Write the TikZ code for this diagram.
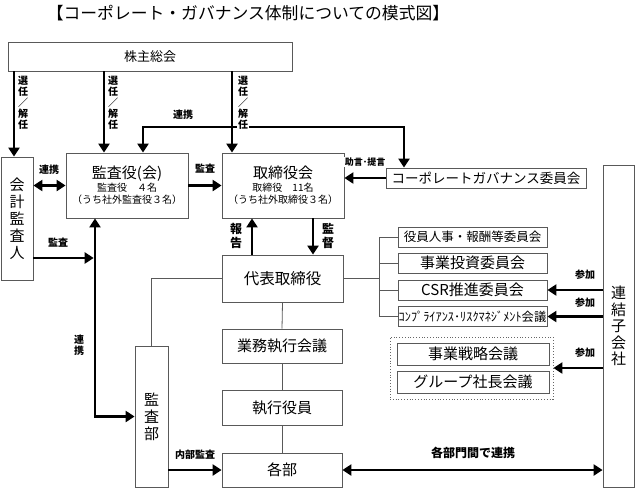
\documentclass[tikz,border=0pt]{standalone}
\usepackage{fontspec}
\setmainfont{Noto Sans CJK JP}
\usetikzlibrary{calc,positioning,arrows,arrows.meta}

\begin{document}
\begin{tikzpicture}[x=1pt,y=-1pt]
\tikzstyle{box}=[draw=black!65, line width=0.8pt, fill=white, inner sep=0pt,
                 align=center, font=\fontsize{15}{17}\selectfont]
\tikzstyle{arr}=[line width=2.6pt, -{Triangle[length=9pt,width=11pt]}]
\tikzstyle{darr}=[line width=2.6pt,
                  {Triangle[length=9pt,width=11pt]}-{Triangle[length=9pt,width=11pt]}]
\tikzstyle{thin}=[draw=black!65, line width=0.8pt]
\tikzstyle{lbl}=[font=\bfseries\fontsize{10}{11}\selectfont, inner sep=1pt,
                 align=center, fill=white]
\useasboundingbox (0,0) rectangle (636,488);

\node (title) at (248,13) {\fontsize{16.8}{18}\selectfont 【コーポレート・ガバナンス体制についての模式図】};

% boxes
\node[box, minimum width=284pt, minimum height=29pt, font=\fontsize{13}{15}\selectfont] (kabunushi) at (150,56.5) {株主総会};
\node[box, minimum width=32pt, minimum height=123pt] (kaikei) at (17,218.5) {会\\計\\監\\査\\人};
\node[box, minimum width=122pt, minimum height=65pt, font=\fontsize{10}{12.5}\selectfont] (kansayaku) at (127,185.5)
  {{\fontsize{15}{18}\selectfont 監査役(会)}\\監査役　４名\\（うち社外監査役３名）};
\node[box, minimum width=122pt, minimum height=65pt, font=\fontsize{10}{12.5}\selectfont] (torishimari) at (283,185.5)
  {{\fontsize{15}{18}\selectfont 取締役会}\\取締役　11名\\（うち社外取締役３名）};
\node[box, minimum width=200pt, minimum height=20pt, font=\fontsize{13.5}{15}\selectfont] (cg) at (486,178) {コーポレートガバナンス委員会};
\node[box, minimum width=121pt, minimum height=47pt, font=\fontsize{15.5}{17}\selectfont] (daihyo) at (282.5,278.5) {代表取締役};
\node[box, minimum width=120pt, minimum height=34pt] (gyomu) at (282,346) {業務執行会議};
\node[box, minimum width=120pt, minimum height=35pt] (shikko) at (282,407.5) {執行役員};
\node[box, minimum width=120pt, minimum height=34pt] (kakubu) at (282,470) {各部};
\node[box, minimum width=33pt, minimum height=141pt] (kansabu) at (151.5,416.5) {監\\査\\部};
\node[box, minimum width=31pt, minimum height=322pt, font=\fontsize{15}{16.5}\selectfont] (renketsu) at (618.5,326) {連\\結\\子\\会\\社};

\node[box, minimum width=149pt, minimum height=20pt, font=\fontsize{12.5}{14}\selectfont] (iin1) at (472.5,237) {役員人事・報酬等委員会};
\node[box, minimum width=149pt, minimum height=20pt] (iin2) at (472.5,263) {事業投資委員会};
\node[box, minimum width=149pt, minimum height=20pt] (csr) at (472.5,290) {CSR推進委員会};
\node[box, minimum width=149pt, minimum height=20pt, font=\fontsize{12.3}{14}\selectfont] (comp) at (472.5,316.5) {ｺﾝﾌﾟﾗｲｱﾝｽ･ﾘｽｸﾏﾈｼﾞﾒﾝﾄ会議};

\node[draw=black!60, dotted, line width=0.8pt, minimum width=163pt, minimum height=62pt] (dotbox) at (471.5,368) {};
\node[box, minimum width=152pt, minimum height=22pt] (senryaku) at (473,354) {事業戦略会議};
\node[box, minimum width=152pt, minimum height=22pt] (shacho) at (473,382) {グループ社長会議};

% thin lines
\draw[thin] (daihyo.west) -| (kansabu.north);
\foreach \a/\b in {daihyo/gyomu,gyomu/shikko,shikko/kakubu}{\draw[thin] (\a.south) -- (\b.north);}
\coordinate (brk) at (379,0);
\draw[thin] (daihyo.east) -- (daihyo.east -| brk);
\draw[thin] (iin1.west -| brk) -- (comp.west -| brk);
\foreach \c in {iin1,iin2,csr,comp}{\draw[thin] (\c.west -| brk) -- (\c.west);}

% thick arrows
\coordinate (s1) at ([xshift=-3pt]kaikei.north);
\coordinate (s2) at ([xshift=-23pt]kansayaku.north);
\coordinate (s3) at ([xshift=-51pt]torishimari.north);
\foreach \s in {s1,s2,s3}{\draw[arr] (kabunushi.south -| \s) -- (\s);}
\coordinate (r1) at ([xshift=16pt]kansayaku.north);
\coordinate (r2) at ([xshift=-82pt]cg.north);
\coordinate (rtop) at (0,127);
\draw[darr] (r1) -- (r1 |- rtop) -- (r2 |- rtop) -- (r2);
\draw[darr] (kansayaku.west -| kaikei.east) -- (kansayaku.west);
\draw[arr] (kansayaku.east) -- (torishimari.west);
\draw[arr] (cg.west) -- (cg.west -| torishimari.east);
\coordinate (k1) at ([xshift=-32pt]kansayaku.south);
\draw[darr] (k1) |- (kansabu.west);
\coordinate (k2) at (k1 |- 0,258);
\draw[arr, shorten >=1.3pt] (kaikei.east |- k2) -- (k2);
\coordinate (h1) at ([xshift=-30.5pt]daihyo.north);
\coordinate (h2) at ([xshift=30.5pt]daihyo.north);
\draw[arr] (h1) -- (h1 |- torishimari.south);
\draw[arr] (h2 |- torishimari.south) -- (h2);
\foreach \c in {csr,comp,dotbox}{\draw[arr] (\c.east -| renketsu.west) -- (\c.east);}
\draw[arr] (kakubu.west -| kansabu.east) -- (kakubu.west);
\draw[darr] (kakubu.east) -- (kakubu.east -| renketsu.west);

% labels
\node[lbl] (sn1) at (23,103) {選\\任\\／\\解\\任};
\node[lbl] (sn2) at (113,103) {選\\任\\／\\解\\任};
\node[lbl] (sn3) at (243,103) {選\\任\\／\\解\\任};
\node[lbl] (rk1) at (183,115) {連携};
\node[lbl] (rk2) at (49,170) {連携};
\node[lbl] (ks1) at (205,169) {監査};
\node[lbl] (ks2) at (58,243) {監査};
\node[lbl] (rk3) at (79,345) {連\\携};
\node[lbl, font=\bfseries\fontsize{12}{14}\selectfont] (hk) at (236,236) {報\\告};
\node[lbl, font=\bfseries\fontsize{12}{14}\selectfont] (kt) at (328,236) {監\\督};
\node[lbl, font=\bfseries\fontsize{9}{10}\selectfont] (jg) at (365,162) {助言･提言};
\node[lbl] (sk1) at (585,275) {参加};
\node[lbl] (sk2) at (585,303) {参加};
\node[lbl] (sk3) at (585,353) {参加};
\node[lbl] (nb) at (195,455) {内部監査};
\node[lbl, font=\bfseries\fontsize{12}{14}\selectfont] (bm) at (473,453) {各部門間で連携};
\end{tikzpicture}
\end{document}
